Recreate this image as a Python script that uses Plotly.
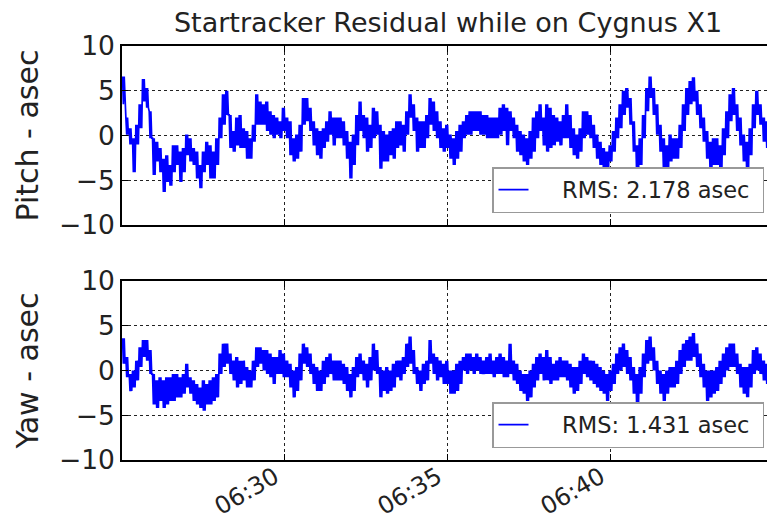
import numpy as np
import pandas as pd
import plotly.graph_objects as go

# ---- data (asec); hi/lo envelope of the noisy trace per sample ----
pitch_hi = [
    6.6, 2.0, 0.8, -0.3, 1.2, 3.5, 6.3, 5.3, 2.7, -0.3,
    -0.7, -1.4, -2.6, -2.2, -3.3, -1.1, -1.1, -1.8, -1.4, 0.1,
    -0.3, -1.4, -1.8, -3.3, -1.8, -0.7, -1.1, -1.8, -0.3, 2.0,
    4.6, 5.0, 2.3, 0.5, 2.0, 2.3, 0.8, 0.5, -0.3, 1.2,
    4.6, 3.8, 3.5, 3.8, 2.7, 2.3, 2.0, 1.6, 3.1, 2.0,
    1.6, -0.3, 0.1, 1.2, 4.2, 4.2, 3.1, 1.6, 0.8, 0.5,
    0.8, 1.6, 2.7, 2.0, 2.0, 2.0,
    1.6, 0.5, -0.7, 0.1, 2.3, 3.8, 2.3, 2.0, 1.2, 3.1,
    2.7, 1.2, 0.5, 0.1, 0.5, 0.8, 1.6, 1.6, 1.2, 2.7,
    4.6, 3.5, 2.0, 1.6, 1.6, 2.3, 4.2, 3.8, 2.7, 1.6,
    0.8, 1.2, 0.1, -0.3, 0.5, 1.2, 1.6, 2.3, 2.7, 2.7,
    2.7, 2.7, 2.3, 2.3, 2.0, 2.0, 2.0, 3.1, 3.5, 3.1,
    2.7, 2.0, 1.2, 0.5, 0.1, -0.3, 0.5, 2.0, 2.7, 3.5,
    2.0, 3.5, 3.1, 2.3, 2.0, 1.6, 2.3, 3.5, 2.3, 0.8,
    0.1, 0.8, 2.7, 2.7, 2.3, 1.2, 0.1, -0.7, -1.4, -1.8,
    -1.1, 0.5, 2.0, 3.5, 5.0, 5.3, 4.2, 1.6, -1.1, -0.3,
    2.3, 5.3, 6.6, 5.3, 3.5, 1.2, -0.3, -1.1, 0.1, -0.3,
    -0.3, 1.2, 3.5, 5.3, 6.1, 6.5, 5.0, 3.5, 2.0, 0.5,
    -0.7, -0.3, -0.3, -1.1, 0.8, 2.7, 4.6, 5.3, 3.5, 2.0,
    0.1, -0.7, 0.8, 3.5, 5.0, 3.5, 2.0, 1.6,
]
pitch_lo = [
    3.5, 0.1, -1.0, -4.1, -1.0, 0.8, 3.8, 3.1, -0.3, -4.4,
    -2.9, -4.1, -6.3, -5.2, -5.6, -4.1, -3.3, -5.2, -4.1, -2.2,
    -2.9, -3.3, -4.8, -5.9, -4.1, -3.3, -4.8, -4.8, -3.3, -0.3,
    1.2, 2.3, -1.4, -1.8, -1.1, -1.4, -1.4, -2.6, -2.6, -0.7,
    1.2, 1.2, 1.2, 0.5, 0.1, -0.3, 0.1, -0.3, 0.5, -0.3,
    -2.2, -2.9, -2.6, -1.8, 1.2, 1.6, 0.5, -1.1, -2.2, -2.6,
    -1.4, -0.7, 0.1, -1.1, -0.3, -0.3,
    -1.1, -2.6, -4.8, -3.3, -1.1, 0.5, -0.3, -1.8, -1.4, -0.3,
    0.1, -3.7, -2.9, -2.9, -2.2, -2.6, -1.4, -1.1, -1.8, 0.1,
    2.0, 0.5, -1.8, -1.4, -1.4, -0.3, 1.2, 0.5, -0.3, -1.4,
    -1.8, -1.4, -2.6, -3.3, -2.6, -1.8, -0.3, 0.1, 0.1, 0.5,
    0.5, 0.1, 0.1, -0.3, -0.3, -0.3, -0.3, 0.1, 0.5, -1.1,
    0.5, -0.3, -1.8, -2.2, -2.9, -3.3, -2.6, -1.8, -0.3, 0.5,
    -1.1, -1.8, -1.4, -1.1, -0.7, -1.1, -0.3, -0.3, -1.4, -2.2,
    -2.6, -1.8, -0.3, 0.1, -0.3, -1.4, -2.6, -3.3, -3.7, -4.1,
    -2.9, -1.8, -0.3, 0.8, 2.3, 3.1, 1.2, -1.8, -4.8, -3.3,
    -0.3, 2.7, 4.2, 2.3, 0.1, -1.8, -3.7, -4.4, -2.9, -2.6,
    -2.6, -1.4, 0.5, 2.3, 3.5, 3.8, 2.3, 0.8, -0.7, -2.6,
    -4.1, -3.3, -3.3, -4.4, -2.2, -0.3, 1.6, 2.3, 0.5, -1.1,
    -2.9, -4.4, -2.2, 0.8, 2.3, 1.2, -0.7, -1.4,
]
yaw_hi = [
    3.6, 1.5, -0.4, 0.0, 1.1, 2.6, 3.4, 3.4, 2.3, -0.4,
    -1.1, -0.75, -1.1, -0.75, -0.75, -0.4, -0.4, -0.75, -0.4, 0.75,
    -0.75, -1.1, -1.5, -1.9, -1.1, -1.5, -1.1, -0.75, -0.4, 1.9,
    3.0, 3.0, 1.9, 1.1, 1.5, 1.1, 1.1, 0.4, 0.0, 1.1,
    2.6, 2.6, 2.3, 2.3, 1.9, 1.5, 1.5, 2.3, 1.9, 1.1,
    0.75, 0.0, 0.4, 1.9, 3.0, 2.6, 1.9, 0.75, 0.4, 0.0,
    1.1, 1.5, 1.9, 1.1, 1.1, 1.1,
    0.75, 0.4, -0.4, 0.4, 1.5, 1.9, 1.1, 0.75, 1.5, 3.0,
    2.3, 0.4, 0.0, 0.4, 0.0, 0.75, 1.1, 1.1, 1.5, 3.0,
    3.8, 2.3, 0.4, 0.0, 0.75, 1.1, 3.4, 1.9, 1.5, 1.1,
    0.75, 1.1, 0.0, 0.0, 0.75, 1.1, 1.5, 1.9, 1.9, 1.5,
    1.9, 1.5, 1.1, 1.5, 1.9, 1.1, 1.5, 1.9, 1.5, 1.1,
    3.0, 1.1, 0.75, 0.0, -0.4, -0.4, 0.0, 0.75, 1.5, 1.9,
    1.5, 2.3, 1.5, 0.75, 1.1, 1.5, 1.1, 1.1, 0.75, 0.4,
    0.4, 1.1, 1.9, 1.5, 1.1, 1.1, 0.75, 0.4, 0.0, -0.4,
    0.0, 0.75, 1.9, 2.6, 3.0, 2.3, 1.5, 0.4, -0.4, 0.4,
    1.9, 3.4, 3.8, 2.6, 1.1, 0.0, -0.4, 0.0, 0.4, 0.4,
    1.1, 2.3, 3.0, 3.4, 3.8, 4.2, 3.0, 1.9, 0.75, 0.0,
    0.0, 0.0, 0.4, 1.1, 1.9, 2.6, 3.0, 3.0, 1.9, 0.75,
    0.4, 0.4, 0.75, 2.3, 2.6, 1.9, 1.1, 0.75,
]
yaw_lo = [
    0.75, -0.75, -2.3, -1.9, -1.1, 0.4, 1.5, 1.1, -0.4, -3.8,
    -4.2, -3.4, -4.2, -3.8, -3.4, -3.4, -3.0, -3.0, -2.6, -1.9,
    -2.6, -3.4, -3.8, -4.2, -4.5, -3.8, -3.8, -3.4, -3.0, -0.4,
    0.4, 0.75, -0.4, -1.1, -1.9, -1.5, -1.1, -1.9, -1.9, -1.1,
    0.4, 0.75, 0.0, -0.4, -0.75, -1.5, -0.4, -0.4, -0.75, -0.75,
    -1.9, -3.0, -2.3, -1.1, 0.75, 0.4, -0.4, -1.5, -2.3, -2.3,
    -1.5, -0.75, -0.4, -1.1, -1.1, -1.1,
    -1.5, -2.3, -3.0, -2.3, -0.75, -0.4, -1.1, -1.9, -1.1, 0.0,
    -0.4, -3.0, -2.3, -2.6, -2.3, -1.9, -0.75, -1.1, -0.4, 0.4,
    0.75, -0.4, -1.5, -2.3, -1.5, -1.1, 0.75, -0.4, -1.1, -0.75,
    -1.5, -1.5, -2.6, -2.6, -2.3, -1.5, 0.0, -0.4, 0.0, -0.4,
    0.0, -0.4, -0.4, -0.4, -0.4, -0.75, -0.4, -0.4, -0.75, -0.75,
    -0.4, -1.1, -1.5, -2.3, -2.6, -3.4, -3.0, -1.9, -1.1, -0.4,
    -1.1, -1.1, -1.5, -1.1, -1.1, -0.75, -0.75, -1.1, -1.9, -2.6,
    -2.3, -1.5, -0.4, -0.75, -1.1, -1.5, -1.9, -2.3, -2.6, -3.4,
    -2.3, -1.5, -0.4, 0.0, 0.4, -0.4, -1.1, -2.6, -4.5, -2.6,
    -0.75, 0.75, 1.1, 0.0, -1.5, -2.6, -3.4, -2.6, -1.9, -1.9,
    -1.5, -0.4, 0.4, 1.1, 1.1, 1.5, 0.4, -0.75, -1.9, -3.4,
    -3.0, -2.6, -2.3, -1.5, -0.75, 0.0, 0.4, 0.4, -0.4, -1.9,
    -2.6, -3.0, -1.9, -0.4, 0.0, -0.4, -1.1, -1.5,
]

pitch_name = "RMS: 2.178 asec"
yaw_name = "RMS: 1.431 asec"
title_text = "Startracker Residual while on Cygnus X1"
start_time = "2015-07-01 06:25:01.5"
sample_step_s = 6.135
x_range = ["2015-07-01 06:25:00.5", "2015-07-01 06:44:47.5"]
y_ticks = [-10, -5, 0, 5, 10]

# ---- time axis: each read sample drawn as hi/lo/hi/lo within its time step ----
n = len(pitch_hi)
t0 = pd.Timestamp(start_time)
base = np.arange(n) * sample_step_s
quarters = [0.0, 0.25, 0.5, 0.75]


def expand(hi, lo):
    xs, ys = [], []
    for k in range(n):
        for j, q in enumerate(quarters):
            xs.append(t0 + pd.to_timedelta(base[k] + q * sample_step_s, unit="s"))
            ys.append(hi[k] if j % 2 == 0 else lo[k])
    return xs, ys


x_p, pitch = expand(pitch_hi, pitch_lo)
x_y, yaw = expand(yaw_hi, yaw_lo)

W, H = 767, 524
L, T, B, R = 122, 46, 64, 0
plot_h = H - T - B  # 414

lead = "\u00a0" * 4
trail = "\u00a0"
fig = go.Figure()
fig.add_trace(go.Scatter(x=x_p, y=pitch, mode="lines", name=lead + pitch_name + trail,
                         line=dict(color="#0000ff", width=1.7), xaxis="x", yaxis="y",
                         legend="legend"))
fig.add_trace(go.Scatter(x=x_y, y=yaw, mode="lines", name=lead + yaw_name + trail,
                         line=dict(color="#0000ff", width=1.7), xaxis="x2", yaxis="y2",
                         legend="legend2"))

xcommon = dict(type="date", range=x_range, tickformat="%H:%M", dtick=300000,
               tick0="2015-07-01 06:25:00", ticks="inside", ticklen=6, tickwidth=1,
               tickcolor="black", showline=True, linecolor="black", linewidth=1.5,
               mirror="ticks", showgrid=True, gridcolor="#222222", griddash="dot",
               gridwidth=1, zeroline=False, automargin=False)
ycommon = dict(range=[-10, 10], tickvals=y_ticks, ticks="inside", ticklen=6,
               tickwidth=1, tickcolor="black", showline=True, linecolor="black",
               linewidth=1.5, mirror=False, showgrid=True, gridcolor="#222222",
               griddash="dot", gridwidth=1, zeroline=False, automargin=False,
               tickfont=dict(size=26.5, color="#222222"))

legend_common = dict(xanchor="right", yanchor="bottom", x=(764 - L) / (W - L - R),
                     bgcolor="white", bordercolor="#999999", borderwidth=1.5,
                     font=dict(size=22.5, color="#222222"))

fig.update_layout(
    width=W, height=H,
    margin=dict(l=L, r=R, t=T, b=B),
    paper_bgcolor="white", plot_bgcolor="white",
    font=dict(family="DejaVu Sans", color="#222222"),
    title=dict(text=title_text, x=448 / W, xanchor="center", xref="container",
               y=1 - 23 / H, yanchor="middle", yref="container",
               font=dict(size=27, color="#222222")),
    xaxis=dict(domain=[0, 1], anchor="y", showticklabels=False, **xcommon),
    xaxis2=dict(domain=[0, 1], anchor="y2", matches="x", tickangle=-30,
                ticklabelstandoff=-8, ticklabelshift=-10,
                tickfont=dict(size=24, color="#222222"), **xcommon),
    yaxis=dict(domain=[235 / plot_h, 1], anchor="x",
               title=dict(text="Pitch - asec", font=dict(size=30, color="#222222"), standoff=12),
               **ycommon),
    yaxis2=dict(domain=[0, 179 / plot_h], anchor="x2",
                title=dict(text="Yaw - asec", font=dict(size=30, color="#222222"), standoff=12),
                **ycommon),
    legend=dict(y=(460 - 213) / plot_h, **legend_common),
    legend2=dict(y=(460 - 448) / plot_h, **legend_common),
    showlegend=True,
)

fig.write_html("out.html", config={"displayModeBar": False},
               post_script="document.body.style.margin='0';")
